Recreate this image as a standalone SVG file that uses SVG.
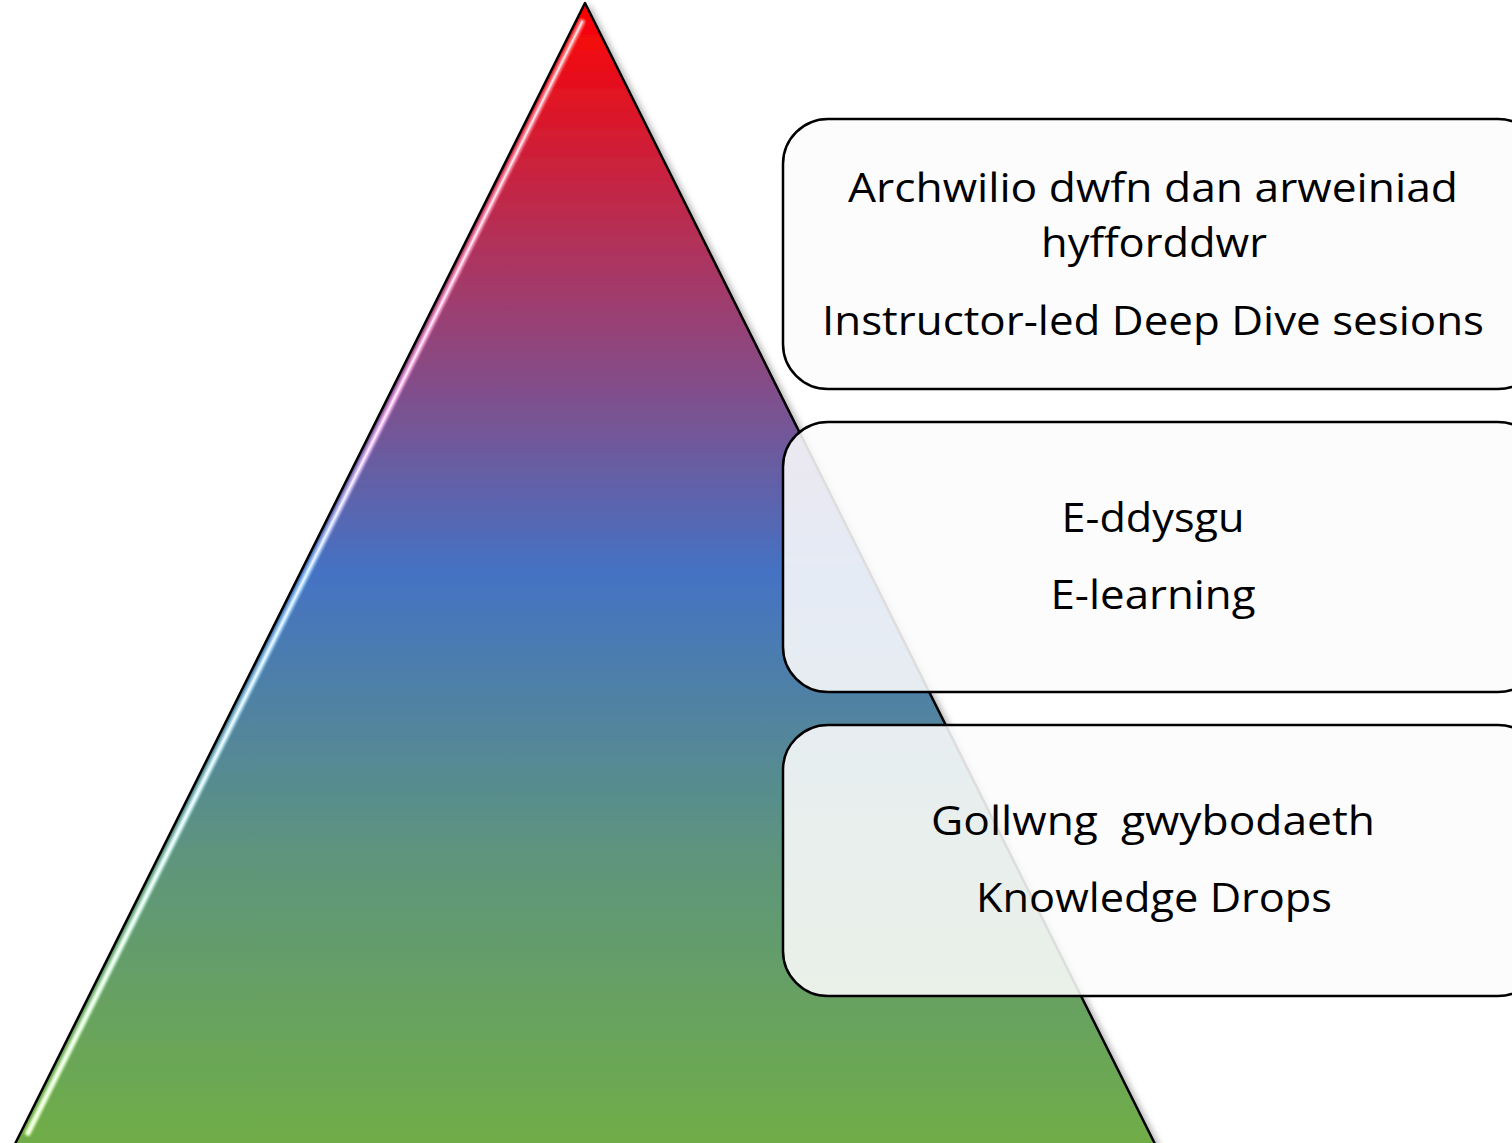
<svg xmlns="http://www.w3.org/2000/svg" width="1512" height="1143" viewBox="0 0 1512 1143">
<defs>
<linearGradient id="pyr" x1="0" y1="3" x2="0" y2="1143" gradientUnits="userSpaceOnUse">
<stop offset="0" stop-color="#ff0000"/>
<stop offset="0.25" stop-color="#a33a6a"/>
<stop offset="0.5" stop-color="#4472c4"/>
<stop offset="0.75" stop-color="#5e957c"/>
<stop offset="1" stop-color="#70ad47"/>
</linearGradient>
<linearGradient id="hl" x1="0" y1="22" x2="0" y2="1133" gradientUnits="userSpaceOnUse">
<stop offset="0" stop-color="#ff8a8a"/>
<stop offset="0.35" stop-color="#f8b0f0"/>
<stop offset="0.5" stop-color="#a8d8ff"/>
<stop offset="0.72" stop-color="#c8f0f0"/>
<stop offset="1" stop-color="#e0ffc0"/>
</linearGradient>
<filter id="shadow" x="-10%" y="-10%" width="120%" height="120%">
<feDropShadow dx="4" dy="3" stdDeviation="3" flood-color="#000" flood-opacity="0.3"/>
</filter>
<filter id="blur" x="-10%" y="-10%" width="120%" height="120%">
<feGaussianBlur stdDeviation="1.2"/>
</filter>
<style>
.box{fill:#fcfcfc;fill-opacity:0.88;stroke:#000;stroke-width:2.5}
.t{font-family:"Open Sans","Liberation Sans",sans-serif;font-size:40px;fill:#000;text-anchor:middle}
</style>
</defs>
<g id="pyramid">
<polygon points="585,3 1156,1146 14,1146" fill="url(#pyr)" stroke="#000" stroke-width="2.5" stroke-linejoin="round" filter="url(#shadow)"/>
<path d="M582,22 L28,1133" stroke="url(#hl)" stroke-width="6" fill="none" stroke-linecap="round" filter="url(#blur)"/>
<path d="M582,22 L28,1133" stroke="#ffffff" stroke-opacity="0.7" stroke-width="2" fill="none" stroke-linecap="round"/>
</g>
<g id="box1">
<rect class="box" x="783" y="119" width="760" height="270" rx="45" ry="45"/>
<text class="t" x="1153" y="202" textLength="610" lengthAdjust="spacingAndGlyphs">Archwilio dwfn dan arweiniad</text>
<text class="t" x="1154" y="257" textLength="226" lengthAdjust="spacingAndGlyphs">hyfforddwr</text>
<text class="t" x="1153" y="335" textLength="662" lengthAdjust="spacingAndGlyphs">Instructor-led Deep Dive sesions</text>
</g>
<g id="box2">
<rect class="box" x="783" y="422" width="760" height="270" rx="45" ry="45"/>
<text class="t" x="1153" y="532" textLength="183" lengthAdjust="spacingAndGlyphs">E-ddysgu</text>
<text class="t" x="1153" y="609" textLength="205" lengthAdjust="spacingAndGlyphs">E-learning</text>
</g>
<g id="box3">
<rect class="box" x="783" y="725" width="760" height="271" rx="45" ry="45"/>
<text class="t" x="1153" y="835" textLength="444" lengthAdjust="spacingAndGlyphs" xml:space="preserve">Gollwng  gwybodaeth</text>
<text class="t" x="1154" y="912" textLength="356" lengthAdjust="spacingAndGlyphs">Knowledge Drops</text>
</g>
<g id="connectors"/>
</svg>
